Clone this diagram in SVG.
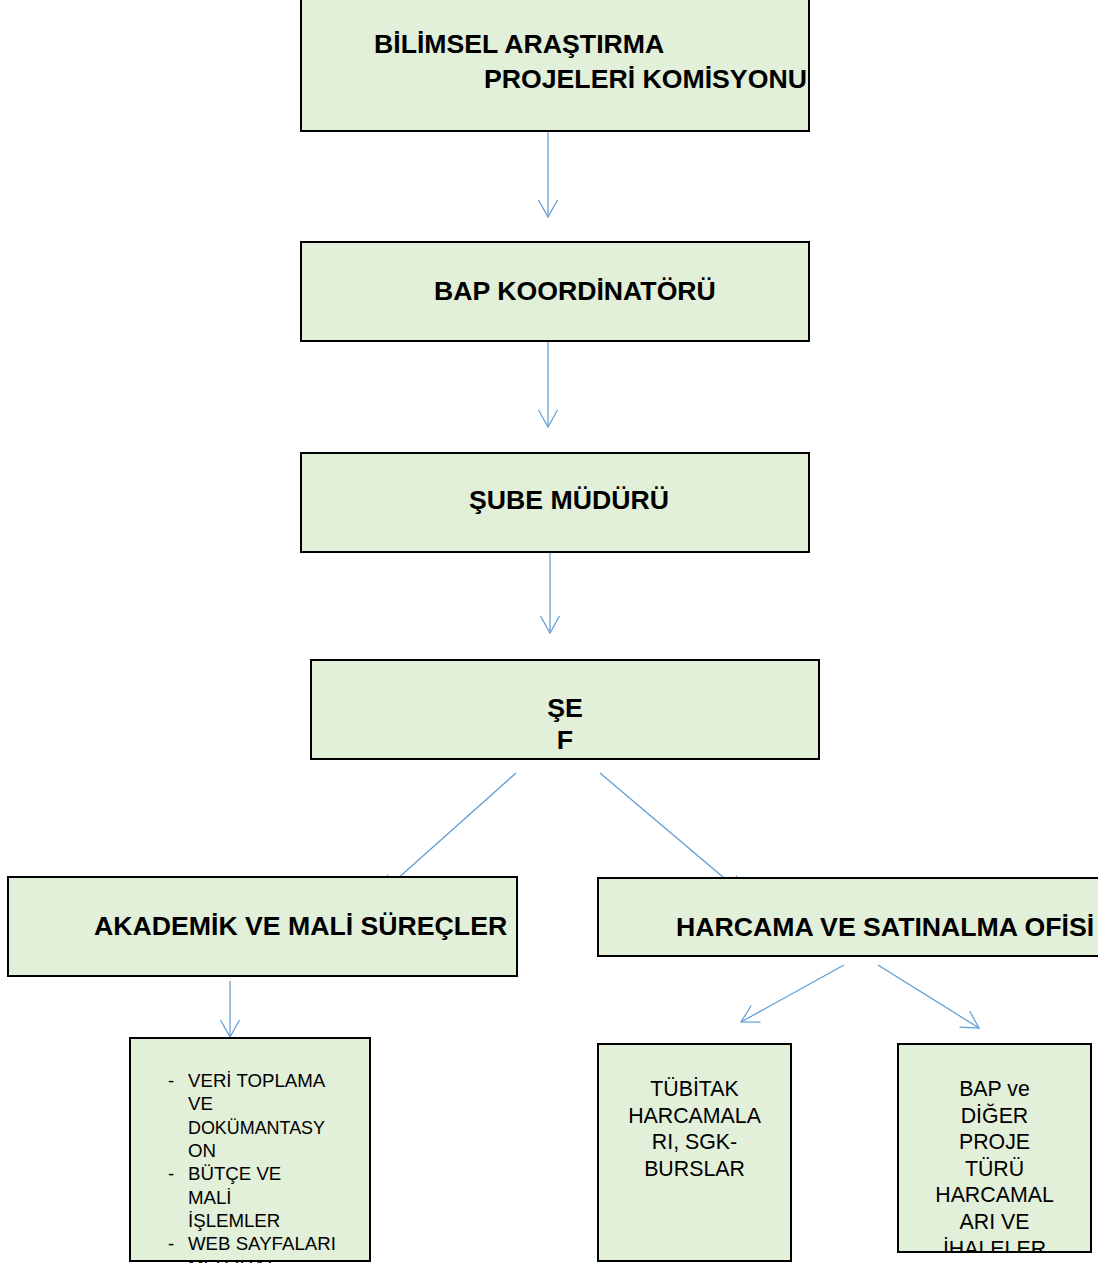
<svg xmlns="http://www.w3.org/2000/svg" width="1098" height="1263" viewBox="0 0 1098 1263">
<style>
.box{fill:#E2EFD9;stroke:#000;stroke-width:2}
.big{font-family:"Liberation Sans",Arial,sans-serif;font-weight:bold;font-size:26.67px;fill:#000}
.sm{font-family:"Liberation Sans",Arial,sans-serif;font-size:18.67px;fill:#000}
.md{font-family:"Liberation Sans",Arial,sans-serif;font-size:21.33px;fill:#000;text-anchor:middle}
.con{stroke:#5B9BD5;stroke-width:1.2;fill:none;marker-end:url(#arr)}
</style>
<defs>
<marker id="arr" markerUnits="userSpaceOnUse" markerWidth="40" markerHeight="40" viewBox="-20 -20 40 40" refX="0" refY="0" orient="auto" overflow="visible">
<path d="M-17,-9.5 L0,0 L-17,9.5" fill="none" stroke="#5B9BD5" stroke-width="1.2"/>
</marker>
<clipPath id="clipR"><rect x="899" y="1045" width="191" height="206"/></clipPath>
</defs>
<rect width="1098" height="1263" fill="#fff"/>
<g id="connectors">
<line class="con" x1="548" y1="131" x2="548" y2="217"/>
<line class="con" x1="548" y1="341" x2="548" y2="427"/>
<line class="con" x1="550" y1="552" x2="550" y2="633"/>
<line class="con" x1="516" y1="773" x2="381.5" y2="893"/>
<line class="con" x1="600" y1="773" x2="743" y2="894"/>
<line class="con" x1="230" y1="981" x2="230" y2="1037"/>
<line class="con" x1="844" y1="965" x2="741" y2="1022"/>
<line class="con" x1="878" y1="965" x2="979" y2="1028"/>
</g>
<g id="komisyon">
<rect class="box" x="301" y="-10" width="508" height="141"/>
<text class="big" x="374" y="53">BİLİMSEL ARAŞTIRMA</text>
<text class="big" x="484" y="88">PROJELERİ KOMİSYONU</text>
</g>
<g id="koordinator">
<rect class="box" x="301" y="242" width="508" height="99"/>
<text class="big" x="434" y="300">BAP KOORDİNATÖRÜ</text>
</g>
<g id="sube">
<rect class="box" x="301" y="453" width="508" height="99"/>
<text class="big" x="469" y="509">ŞUBE MÜDÜRÜ</text>
</g>
<g id="sef">
<rect class="box" x="311" y="660" width="508" height="99"/>
<text class="big" x="565" y="717" text-anchor="middle">ŞE</text>
<text class="big" x="565" y="749" text-anchor="middle">F</text>
</g>
<g id="akademik">
<rect class="box" x="8" y="877" width="509" height="99"/>
<text class="big" x="94" y="935">AKADEMİK VE MALİ SÜREÇLER</text>
</g>
<g id="harcama">
<rect class="box" x="598" y="878" width="520" height="78"/>
<text class="big" x="676" y="936">HARCAMA VE SATINALMA OFİSİ</text>
</g>
<g id="akademik-detay">
<rect class="box" x="130" y="1038" width="240" height="223"/>
<text class="sm" x="168" y="1087">-</text>
<text class="sm" x="188" y="1087">VERİ TOPLAMA</text>
<text class="sm" x="188" y="1110">VE</text>
<text class="sm" x="188" y="1134" textLength="137" lengthAdjust="spacingAndGlyphs">DOKÜMANTASY</text>
<text class="sm" x="188" y="1157">ON</text>
<text class="sm" x="168" y="1180">-</text>
<text class="sm" x="188" y="1180">BÜTÇE VE</text>
<text class="sm" x="188" y="1204">MALİ</text>
<text class="sm" x="188" y="1227">İŞLEMLER</text>
<text class="sm" x="168" y="1250">-</text>
<text class="sm" x="188" y="1250">WEB SAYFALARI</text>
<text class="sm" x="188" y="1273">MEVZUAT</text>
</g>
<g id="tubitak">
<rect class="box" x="598" y="1044" width="193" height="217"/>
<text class="md" x="694.5" y="1096">TÜBİTAK</text>
<text class="md" x="694.5" y="1123">HARCAMALA</text>
<text class="md" x="694.5" y="1149">RI, SGK-</text>
<text class="md" x="694.5" y="1176">BURSLAR</text>
</g>
<g id="bap-diger">
<rect class="box" x="898" y="1044" width="193" height="208"/>
<g clip-path="url(#clipR)">
<text class="md" x="994.5" y="1096">BAP ve</text>
<text class="md" x="994.5" y="1123">DİĞER</text>
<text class="md" x="994.5" y="1149">PROJE</text>
<text class="md" x="994.5" y="1176">TÜRÜ</text>
<text class="md" x="994.5" y="1202">HARCAMAL</text>
<text class="md" x="994.5" y="1229">ARI VE</text>
<text class="md" x="994.5" y="1256">İHALELER</text>
</g>
</g>
</svg>
